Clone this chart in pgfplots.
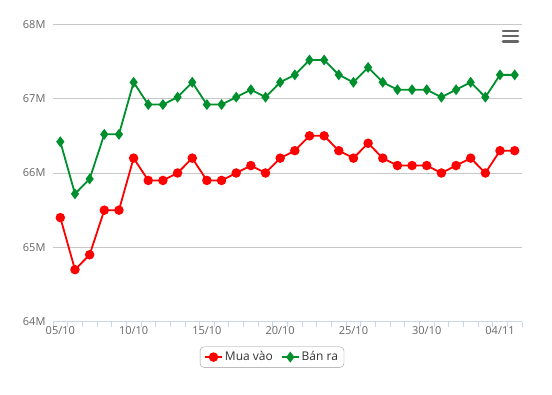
\documentclass[border=0pt]{standalone}
\usepackage{pgfplots}
\pgfplotsset{compat=1.18}
\usepackage{fontspec}
\setmainfont{Open Sans}
\definecolor{lbl}{HTML}{666666}
\definecolor{gridc}{HTML}{C8C8C8}
\definecolor{axc}{HTML}{CCD6EB}
\definecolor{redc}{HTML}{FF0000}
\definecolor{greenc}{HTML}{008F2D}
\definecolor{txt}{HTML}{333333}
\begin{document}
\begin{tikzpicture}
\useasboundingbox (-53pt,-73.3pt) rectangle (499pt,321.7pt);
\begin{axis}[
  scale only axis,
  width=469pt, height=297.4pt,
  xmin=-0.5, xmax=31.5, ymin=64, ymax=68,
  axis y line*=none,
  axis x line*=bottom,
  axis line style={axc, line width=0.8pt},
  x axis line style={-},
  y axis line style={draw=none},
  xtick={0,5,10,15,20,25,30},
  xticklabels={05/10,10/10,15/10,20/10,25/10,30/10,04/11},
  minor xtick={-0.5,0.5,...,31.5},
  ytick={64,65,66,67,68},
  yticklabels={64M,65M,66M,67M,68M},
  major x tick style={draw=none},
  minor x tick style={axc, line width=0.8pt},
  minor tick length=5pt,
  major tick length=0pt,
  x tick label style={font=\fontsize{11}{13}\selectfont, text=lbl, yshift=-1pt},
  y tick label style={font=\fontsize{11}{13}\selectfont, text=lbl, xshift=-4pt},
  ymajorgrids,
  grid style={gridc, line width=0.8pt},
  tick align=outside,
  clip=false,
  legend style={at={(0.467,-0.119)}, anchor=center, draw=gray!80, rounded corners=4pt,
    font=\fontsize{12}{14}\selectfont, text=txt, legend columns=2,
    /tikz/every even column/.append style={column sep=6pt},
    inner xsep=4pt, inner ysep=3pt},
  legend image code/.code={
    \draw[#1, mark repeat=2, mark phase=2] plot coordinates {(0cm,0cm) (0.3cm,0cm) (0.6cm,0cm)};},
]
\addplot[redc, line width=1.8pt, mark=*, mark size=3.8pt, mark options={fill=redc, draw=redc}] coordinates {
(0,65.4)(1,64.7)(2,64.9)(3,65.5)(4,65.5)(5,66.2)(6,65.9)(7,65.9)(8,66.0)(9,66.2)
(10,65.9)(11,65.9)(12,66.0)(13,66.1)(14,66.0)(15,66.2)(16,66.3)(17,66.5)(18,66.5)(19,66.3)
(20,66.2)(21,66.4)(22,66.2)(23,66.1)(24,66.1)(25,66.1)(26,66.0)(27,66.1)(28,66.2)(29,66.0)
(30,66.3)(31,66.3)};
\addlegendentry{Mua vào}
\addplot[greenc, line width=1.8pt, mark=diamond*, mark size=4pt, mark options={fill=greenc, draw=greenc}] coordinates {
(0,66.42)(1,65.72)(2,65.92)(3,66.52)(4,66.52)(5,67.22)(6,66.92)(7,66.92)(8,67.02)(9,67.22)
(10,66.92)(11,66.92)(12,67.02)(13,67.12)(14,67.02)(15,67.22)(16,67.32)(17,67.52)(18,67.52)(19,67.32)
(20,67.22)(21,67.42)(22,67.22)(23,67.12)(24,67.12)(25,67.12)(26,67.02)(27,67.12)(28,67.22)(29,67.02)
(30,67.32)(31,67.32)};
\addlegendentry{Bán ra}
\end{axis}
\draw[lbl, line width=2.6pt, line cap=round] (450pt,290.7pt) -- (465pt,290.7pt);
\draw[lbl, line width=2.6pt, line cap=round] (450pt,285.5pt) -- (465pt,285.5pt);
\draw[lbl, line width=2.6pt, line cap=round] (450pt,280.2pt) -- (465pt,280.2pt);
\end{tikzpicture}
\end{document}
